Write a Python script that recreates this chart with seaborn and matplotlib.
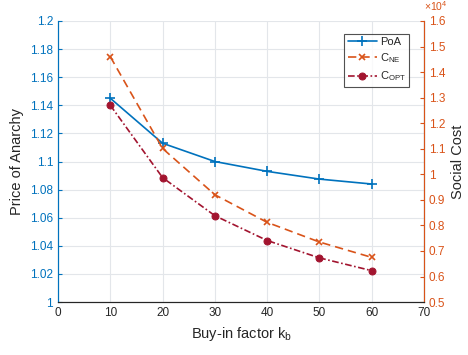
import matplotlib
matplotlib.use("Agg")
import matplotlib.pyplot as plt
import seaborn as sns
import pandas as pd

# values
buy_in = [10, 20, 30, 40, 50, 60]
poa = [1.145, 1.113, 1.100, 1.093, 1.0875, 1.084]
cost_ne = [1.46, 1.101, 0.92, 0.812, 0.735, 0.675]    # x 10^4
cost_opt = [1.27, 0.987, 0.838, 0.741, 0.673, 0.623]  # x 10^4

blue = "#0072BD"
orange = "#D95319"
red = "#A2142F"

sns.set_style("white")
plt.rcParams["font.family"] = ["Liberation Sans", "DejaVu Sans"]
plt.rcParams["mathtext.fontset"] = "custom"
plt.rcParams["mathtext.rm"] = "Liberation Sans"
plt.rcParams["mathtext.it"] = "Liberation Sans"

df = pd.DataFrame({"k": buy_in, "poa": poa, "ne": cost_ne, "opt": cost_opt})

fig, ax = plt.subplots(figsize=(4.68, 3.55), dpi=100)
fig.subplots_adjust(left=0.124, right=0.906, top=0.941, bottom=0.149)
ax2 = ax.twinx()

sns.lineplot(data=df, x="k", y="poa", ax=ax, color=blue, marker="+", markersize=6.5,
             markeredgewidth=1.2, markeredgecolor=blue, linewidth=1.2,
             label="PoA", legend=False)
sns.lineplot(data=df, x="k", y="ne", ax=ax2, color=orange, marker="x", markersize=5,
             markeredgewidth=1.2, markeredgecolor=orange, linewidth=1.2,
             linestyle=(0, (5, 3)), label=r"C$_{\mathrm{NE}}$", legend=False)
sns.lineplot(data=df, x="k", y="opt", ax=ax2, color=red, marker="o", markersize=5,
             markeredgecolor=red, linewidth=1.2, linestyle=(0, (4, 1.5, 1, 1.5)),
             label=r"C$_{\mathrm{OPT}}$", legend=False)

ax.set_xlim(0, 70)
ax.set_xticks(range(0, 71, 10))
ax.set_ylim(1, 1.2)
ax.set_yticks([1 + 0.02 * i for i in range(11)])
ax.set_yticklabels(["1", "1.02", "1.04", "1.06", "1.08", "1.1", "1.12", "1.14", "1.16", "1.18", "1.2"])
ax2.set_ylim(0.5, 1.6)
ax2.set_yticks([0.5 + 0.1 * i for i in range(12)])
ax2.set_yticklabels(["0.5", "0.6", "0.7", "0.8", "0.9", "1", "1.1", "1.2", "1.3", "1.4", "1.5", "1.6"])

ax.grid(True, color="#e3e6ea", linewidth=0.8)
ax.set_axisbelow(True)

ax.set_xlabel(r"Buy-in factor k$_{\mathrm{b}}$", fontsize=10.5)
ax.set_ylabel("Price of Anarchy", fontsize=10.5)
ax2.set_ylabel("Social Cost", fontsize=10.5)

ax.tick_params(axis="x", direction="in", length=3, labelsize=8.5, colors="#262626")
ax.tick_params(axis="y", direction="in", length=3, labelsize=8.5, colors=blue)
ax2.tick_params(axis="y", direction="in", length=3, labelsize=8.5, colors=orange)

for sp in ["top"]:
    ax.spines[sp].set_visible(False)
    ax2.spines[sp].set_visible(False)
ax.spines["left"].set_color(blue)
ax.spines["bottom"].set_color("#262626")
ax2.spines["right"].set_color(orange)
ax2.spines["left"].set_color(blue)
ax2.spines["bottom"].set_color("#262626")
for sp in ax.spines.values():
    sp.set_linewidth(0.8)
for sp in ax2.spines.values():
    sp.set_linewidth(0.8)

ax2.text(1.0, 1.028, r"$\times10^{4}$", transform=ax2.transAxes, color=orange,
         fontsize=7.5, ha="left", va="bottom")

h1, l1 = ax.get_legend_handles_labels()
h2, l2 = ax2.get_legend_handles_labels()
leg = ax2.legend(h1 + h2, l1 + l2, loc="upper right", bbox_to_anchor=(0.975, 0.975),
                 fontsize=8, frameon=True, fancybox=False, handlelength=2.6,
                 borderpad=0.3, labelspacing=0.4, handletextpad=0.3)
leg.get_frame().set_edgecolor("#262626")
leg.get_frame().set_linewidth(0.8)

fig.savefig("out.png", dpi=100)
